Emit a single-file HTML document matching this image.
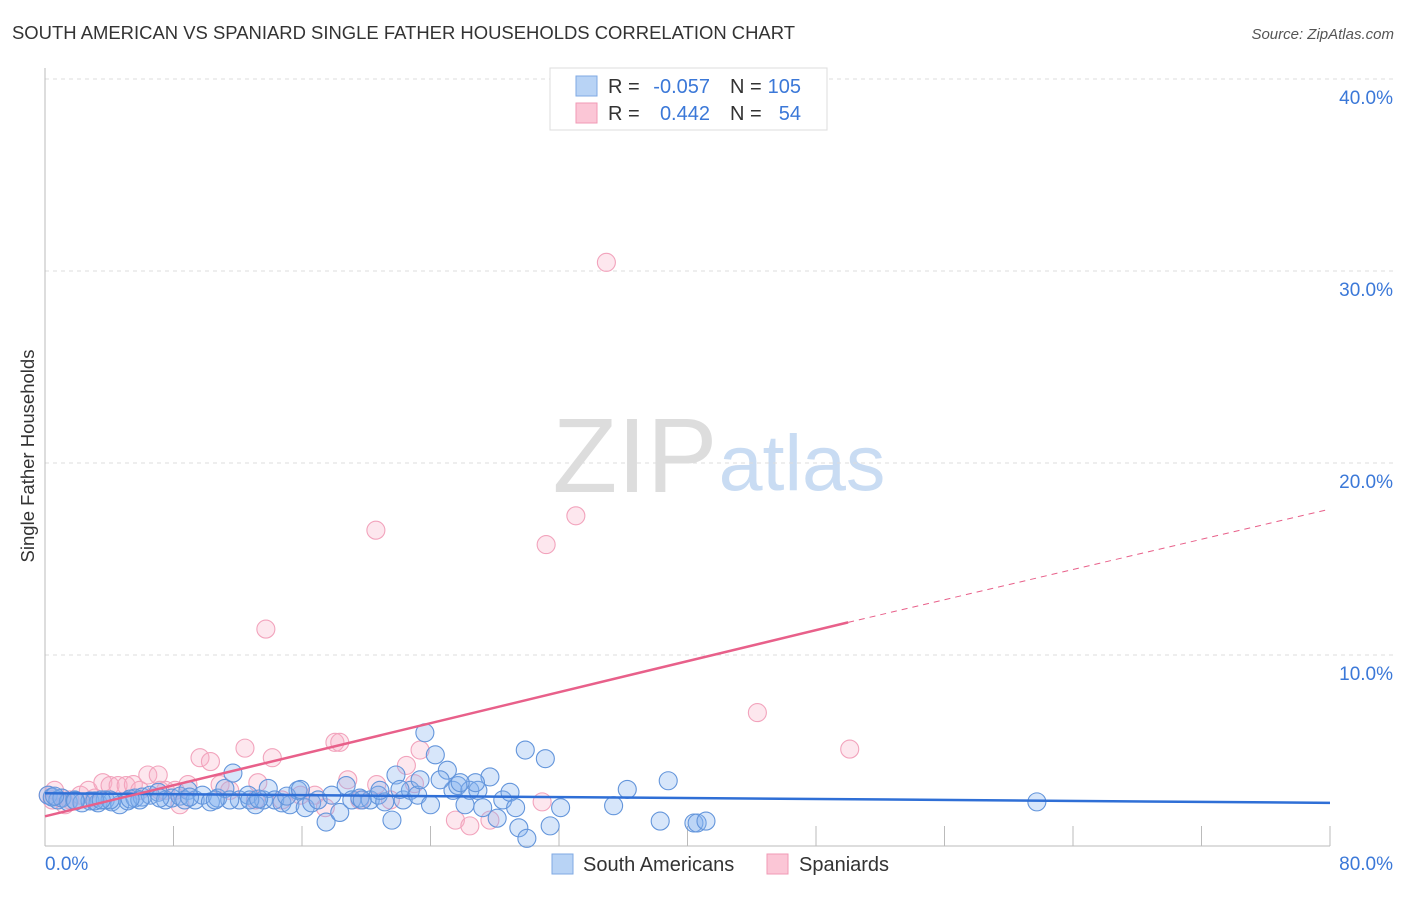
<!DOCTYPE html>
<html><head><meta charset="utf-8">
<style>
body{margin:0;background:#fff;font-family:"Liberation Sans",sans-serif;}
svg text{font-family:"Liberation Sans",sans-serif;}
</style></head>
<body>
<svg id="chart" width="1406" height="892" xmlns="http://www.w3.org/2000/svg">
<text x="12" y="39" font-size="18" fill="#333" textLength="783" lengthAdjust="spacingAndGlyphs">SOUTH AMERICAN VS SPANIARD SINGLE FATHER HOUSEHOLDS CORRELATION CHART</text>
<text x="1394" y="39" font-size="15" fill="#555" font-style="italic" text-anchor="end">Source: ZipAtlas.com</text>
<text transform="translate(34,456) rotate(-90)" font-size="18.5" fill="#333" text-anchor="middle">Single Father Households</text>
<g>
<text x="635" y="492" font-size="106" fill="#ddd" font-family="Liberation Serif" text-anchor="middle">ZIP</text>
<text x="802" y="490" font-size="79" fill="#c9dcf3" text-anchor="middle">atlas</text>
</g>
<g id="grid"></g>
<g id="axes"></g>
<g id="pts"></g>
<g id="trend"></g>
<g>
<rect x="550" y="68" width="277" height="62" fill="#fff" stroke="#ddd"/>
<rect x="576" y="76" width="21" height="20" fill="#b8d3f5" stroke="#7fa9e3"/>
<rect x="576" y="103" width="21" height="20" fill="#fbc6d6" stroke="#f09ab5"/>
<text x="608" y="93" font-size="20" fill="#333">R =</text>
<text x="710" y="93" font-size="20" fill="#3b78d8" text-anchor="end">-0.057</text>
<text x="730" y="93" font-size="20" fill="#333">N =</text>
<text x="801" y="93" font-size="20" fill="#3b78d8" text-anchor="end">105</text>
<text x="608" y="120" font-size="20" fill="#333">R =</text>
<text x="710" y="120" font-size="20" fill="#3b78d8" text-anchor="end">0.442</text>
<text x="730" y="120" font-size="20" fill="#333">N =</text>
<text x="801" y="120" font-size="20" fill="#3b78d8" text-anchor="end">54</text>
</g>
<g>
<rect x="552" y="854" width="21" height="20" fill="#b8d3f5" stroke="#7fa9e3"/>
<text x="583" y="871" font-size="20" fill="#333">South Americans</text>
<rect x="767" y="854" width="21" height="20" fill="#fbc6d6" stroke="#f09ab5"/>
<text x="799" y="871" font-size="20" fill="#333">Spaniards</text>
</g>
</svg>
<script>
const blueX=[0.2,0.45,0.8,1.05,1.45,1.85,2.3,2.8,3.3,3.75,4.15,4.65,5.15,5.6,6.05,6.55,7.05,7.5,7.9,8.4,8.9,9.35,9.8,10.3,10.75,11.2,11.7,12.1,12.65,13.1,13.6,13.9,14.3,14.75,15.25,15.75,16.2,16.6,17.0,17.5,17.85,18.35,18.75,19.1,19.6,20.25,20.75,21.15,21.6,21.85,22.3,22.75,23.2,23.65,24.0,24.3,25.05,25.4,25.7,26.15,26.45,26.95,27.25,27.7,28.15,28.5,28.95,29.3,29.5,30.0,31.15,31.45,32.1,35.4,36.25,38.3,38.8,40.4,40.6,41.15,61.75,29.9,26.8,25.85,22.1,19.75,15.05,15.9,11.5,10.6,8.7,7.15,5.9,4.05,3.1,0.6,24.6,23.35,20.85,12.75,1.9,3.5,5.3,9.0,13.3];
const blueY=[2.7,2.6,2.45,2.55,2.35,2.45,2.3,2.4,2.3,2.45,2.35,2.2,2.4,2.55,2.6,2.7,2.85,2.45,2.55,2.65,2.95,2.45,2.7,2.35,2.55,3.05,3.85,2.45,2.7,2.2,2.45,3.05,2.45,2.3,2.2,2.95,2.05,2.3,2.45,1.3,2.7,1.8,3.2,2.45,2.55,2.45,2.7,2.35,1.4,3.75,2.45,2.95,2.7,5.95,2.2,4.8,4.0,2.95,3.2,2.2,2.95,2.95,2.05,3.65,1.5,2.45,2.85,2.05,1.0,0.45,4.6,1.1,2.05,2.15,3.0,1.35,3.45,1.25,1.25,1.35,2.35,5.05,3.35,3.35,3.0,2.45,2.65,3.0,2.45,2.45,2.45,2.55,2.45,2.45,2.4,2.65,3.5,3.5,2.95,2.45,2.4,2.45,2.5,2.6,2.5];
const pinkX=[0.2,0.45,0.6,1.05,1.55,2.2,2.7,3.1,3.6,4.05,4.55,5.05,5.5,5.9,6.4,7.05,7.5,8.1,8.4,8.9,9.65,10.3,10.9,11.5,12.45,13.1,13.25,13.75,14.15,14.75,15.9,16.8,17.45,18.05,18.35,18.85,19.6,20.65,21.5,22.5,23.0,23.35,25.55,26.45,27.7,30.95,31.2,33.05,34.95,44.35,50.1,20.6,7.15,1.25];
const pinkY=[2.7,2.45,2.95,2.55,2.45,2.7,2.95,2.55,3.35,3.2,3.2,3.2,3.25,2.95,3.75,3.75,2.95,2.95,2.2,3.25,4.65,4.45,3.25,2.95,5.15,2.45,3.35,11.35,4.65,2.45,2.7,2.7,2.05,5.45,5.45,3.5,2.45,3.25,2.45,4.25,3.3,5.05,1.4,1.1,1.4,2.35,15.75,17.25,30.45,7.0,5.1,16.5,2.95,2.2];
const yTicks=[10,20,30,40];
const yTickLabels=["10.0%","20.0%","30.0%","40.0%"];
const xTicks=[0,8,16,24,32,40,48,56,64,72,80];
const blueTrend=[[0,2.8],[80,2.3]];
const pinkTrend=[[0,1.6],[50,11.7],[80,17.6]];

const NS="http://www.w3.org/2000/svg";
const X=v=>45+v*(1285/80);
const Y=v=>847-v*19.2;
function mk(parent,tag,attrs){const e=document.createElementNS(NS,tag);for(const k in attrs)e.setAttribute(k,attrs[k]);document.getElementById(parent).appendChild(e);return e;}

yTicks.forEach((t,i)=>{
  const g=mk('grid','line',{x1:45,x2:1395,y1:Y(t),y2:Y(t),stroke:'#ddd','stroke-dasharray':'4,4'});
  
  
  const l=mk('grid','text',{x:1393,y:Y(t)+25,'font-size':19,fill:'#3b78d8','text-anchor':'end'});
  l.textContent=yTickLabels[i];
  
  
});
const ya=mk('axes','line',{x1:45,x2:45,y1:68,y2:846,stroke:'#bbb'});


const xa=mk('axes','line',{x1:45,x2:1330,y1:846,y2:846,stroke:'#bbb'});


xTicks.forEach(t=>{
  const k=mk('axes','line',{x1:X(t),x2:X(t),y1:826,y2:846,stroke:'#bbb'});
  
  
});
const x0=mk('axes','text',{x:45,y:870,'font-size':19,fill:'#3b78d8'});x0.textContent='0.0%';


const x1=mk('axes','text',{x:1393,y:870,'font-size':19,fill:'#3b78d8','text-anchor':'end'});x1.textContent='80.0%';



pinkX.forEach((v,i)=>{
  const c=mk('pts','circle',{cx:X(v),cy:Y(pinkY[i]),r:9,fill:'rgba(248,175,198,0.3)',stroke:'#f2a3bc','stroke-width':1.1});
  
  
});
blueX.forEach((v,i)=>{
  const c=mk('pts','circle',{cx:X(v),cy:Y(blueY[i]),r:9,fill:'rgba(130,178,238,0.32)',stroke:'#6395db','stroke-width':1.1});
  
  
});
const bt=mk('trend','line',{x1:X(blueTrend[0][0]),y1:Y(blueTrend[0][1]),x2:X(blueTrend[1][0]),y2:Y(blueTrend[1][1]),stroke:'#2f6fd6','stroke-width':2.5});


const pt=mk('trend','line',{x1:X(pinkTrend[0][0]),y1:Y(pinkTrend[0][1]),x2:X(pinkTrend[1][0]),y2:Y(pinkTrend[1][1]),stroke:'#e8608a','stroke-width':2.5});


const pd=mk('trend','line',{x1:X(pinkTrend[1][0]),y1:Y(pinkTrend[1][1]),x2:X(pinkTrend[2][0]),y2:Y(pinkTrend[2][1]),stroke:'#e8608a','stroke-width':1,'stroke-dasharray':'6,5'});


</script>
</body></html>
